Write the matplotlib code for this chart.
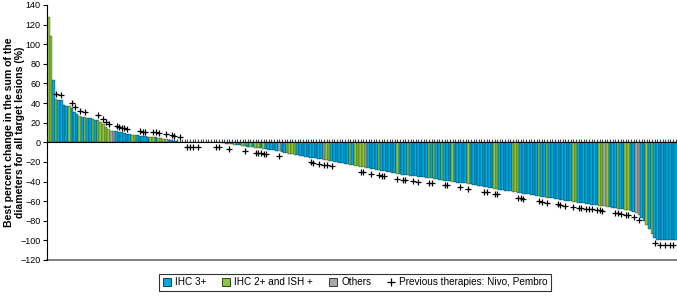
import matplotlib
matplotlib.use("Agg")
import matplotlib.pyplot as plt
from matplotlib.lines import Line2D
import numpy as np

plt.rcParams.update({
    "font.family": ["Liberation Sans", "DejaVu Sans"],
    "font.size": 6.5,
})

# best percent change per patient, sorted (waterfall)
values = [
    128, 108, 64, 44, 43.5, 43, 38, 37.5, 37.5, 35,
    31, 29, 26.5, 26, 25.5, 25, 24.5, 24, 23, 22.5,
    20.5, 18.5, 16, 14, 12, 12, 12, 10.5, 10, 9.5,
    8.5, 8, 7.5, 7, 7, 6.5, 6, 6, 5.5, 5.5,
    5, 5, 4.5, 4, 3.5, 3, 2.5, 2, 1.5, 1,
    0.8, 0.4, 0.4, 0.4, 0.4, 0.4, 0.3, 0.3, 0.3, 0.3,
    0.3, 0.3, 0.3, 0.3, 0.3, 0.2, -0.5, -1, -1.5, -2,
    -2, -2.5, -3, -3, -3.5, -4, -4.5, -5, -5, -5.5,
    -6, -6, -6.5, -7, -7.5, -8, -8, -8.5, -9, -10,
    -10.5, -11, -11.5, -12, -12.5, -13, -13.5, -14, -14.5, -15,
    -15.5, -16, -16.5, -17, -17.5, -18, -18.5, -19, -19.5, -20,
    -20.5, -21, -21.5, -22, -22.5, -23, -23.5, -24, -24.5, -25,
    -25.5, -26, -26.5, -27, -27.5, -28, -28.5, -29, -29.5, -30,
    -30.5, -31, -31.5, -32, -32.5, -33, -33, -33.5, -34, -34,
    -34.5, -35, -35, -35.5, -36, -36, -36.5, -37, -37.5, -38,
    -38.5, -39, -39, -39.5, -40, -40.5, -41, -41, -41.5, -42,
    -42.5, -43, -43.5, -44, -44.5, -45, -45.5, -46, -46.5, -47,
    -47.5, -48, -48.5, -49, -49.5, -50, -50, -50.5, -51, -51.5,
    -52, -52.5, -53, -53, -53.5, -54, -54.5, -55, -55.5, -56,
    -56.5, -57, -57, -57.5, -58, -58.5, -59, -59.5, -60, -60,
    -60.5, -61, -61.5, -62, -62, -62.5, -63, -63.5, -64, -64,
    -64.5, -65, -65, -65.5, -66, -66.5, -67, -67.5, -68, -68.5,
    -69, -69.5, -70, -71, -72, -74, -77, -80, -84, -88,
    -93, -98, -100, -100, -100, -100, -100, -100, -100, -100,
]

# patient index (in waterfall order) by HER2 group; the rest are IHC 3+
ihc2_ish_idx = [
    0, 1, 3, 8, 12, 14, 17, 19, 20, 21, 22, 23, 32, 33, 39, 40, 42, 43, 44,
    52, 58, 61, 67, 69, 71, 74, 75, 77, 79, 80, 82, 91, 92, 93, 94,
    106, 107, 115, 117, 118, 119, 120, 126, 133, 137, 145, 147, 150, 154,
    160, 170, 171, 177, 178, 179, 187, 190, 200, 201, 210, 211, 213, 217,
    220, 221, 228, 230,
]
others_idx = [24, 25, 45, 50, 55, 63, 88, 105, 121, 212, 224, 225]

# patients with previous therapies (Nivo, Pembro)
prev_idx = [
    3, 5, 9, 10, 12, 14, 19, 21, 22, 23, 26, 27, 28, 29, 30, 35, 36, 37,
    40, 41, 42, 45, 47, 48, 50, 53, 54, 55, 57, 64, 65,
    69, 75, 79, 80, 81, 82, 83, 88, 100, 101, 103, 105, 106, 108,
    119, 120, 123, 126, 127, 128, 133, 135, 136, 139, 141, 145, 146,
    151, 152, 157, 160, 166, 167, 170, 171, 179, 180, 181, 187, 188,
    190, 194, 195, 197, 200, 202, 203, 205, 206, 207, 209, 210, 211,
    216, 217, 218, 220, 221, 223, 225, 231, 233, 235, 237, 238,
]

c_ihc3 = "#00A9E0"
c_ihc2 = "#8DC63F"
c_other = "#A9A9A9"

vals = np.array(values, dtype=float)
x = np.arange(len(vals))
colors = [c_ihc3] * len(vals)
for i in ihc2_ish_idx:
    colors[i] = c_ihc2
for i in others_idx:
    colors[i] = c_other

fig = plt.figure(figsize=(6.77, 2.97), dpi=100)
ax = fig.add_axes([0.0694, 0.1246, 0.9306, 0.8586])

ax.bar(x, vals, width=1.0, color=colors, edgecolor="black", linewidth=0.2, zorder=2)

# "+" markers just beyond the end of each bar
pv = vals[prev_idx]
off = np.where(pv >= 0.5, 5, -5)
ax.plot(x[prev_idx], pv + off, ls="none", marker="+", color="black",
        markersize=4, markeredgewidth=0.9, zorder=3)

ax.set_xlim(-0.5, len(vals) - 0.5)
ax.set_ylim(-120, 140)
ax.set_yticks(np.arange(-120, 141, 20))

ax.spines["top"].set_visible(False)
ax.spines["right"].set_visible(False)
ax.spines["bottom"].set_position(("data", 0))
ax.spines["bottom"].set_linewidth(0.8)
ax.spines["left"].set_linewidth(0.8)
ax.set_xticks(x)
ax.tick_params(axis="x", direction="in", length=2, width=0.5, labelbottom=False)
ax.tick_params(axis="y", direction="out", length=3, width=0.8, pad=1.5)
ax.axhline(-120, color="#7f7f7f", lw=1.4, clip_on=False, zorder=1)

ax.set_ylabel("Best percent change in the sum of the\ndiameters for all target lesions (%)",
              fontsize=7.6, fontweight="bold", linespacing=1.1)
ax.yaxis.set_label_coords(-0.035, 0.5)

handles = [
    Line2D([], [], ls="none", marker="s", markersize=5.5, markerfacecolor=c_ihc3,
           markeredgecolor="black", markeredgewidth=0.5),
    Line2D([], [], ls="none", marker="s", markersize=5.5, markerfacecolor=c_ihc2,
           markeredgecolor="black", markeredgewidth=0.5),
    Line2D([], [], ls="none", marker="s", markersize=5.5, markerfacecolor=c_other,
           markeredgecolor="black", markeredgewidth=0.5),
    Line2D([], [], ls="none", marker="+", markersize=6, color="black", markeredgewidth=0.9),
]
labels = ["IHC 3+", "IHC 2+ and ISH +", "Others", "Previous therapies: Nivo, Pembro"]
leg = fig.legend(handles, labels, loc="lower center", bbox_to_anchor=(0.525, 0.005),
                 ncol=4, frameon=True, fancybox=False, fontsize=7.2, handlelength=0.8,
                 handletextpad=0.4, columnspacing=1.6, borderpad=0.35)
leg.get_frame().set_edgecolor("black")
leg.get_frame().set_linewidth(0.8)

fig.savefig("out.png", dpi=100)
